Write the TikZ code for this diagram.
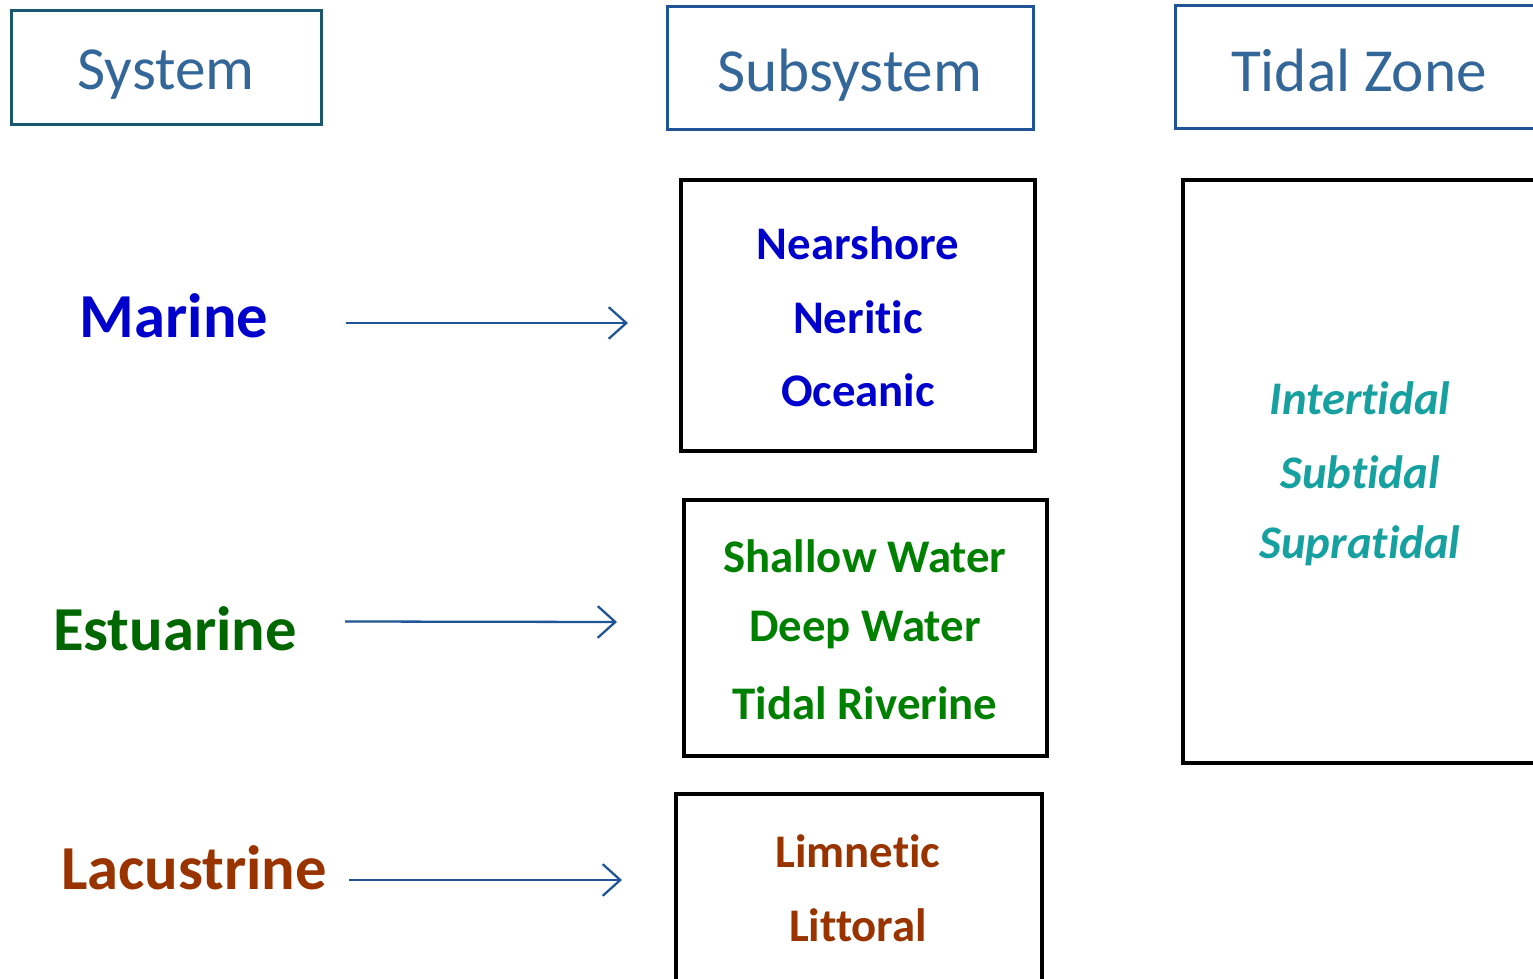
\documentclass[tikz,border=0pt]{standalone}
\usepackage{fontspec}
\setmainfont{Carlito}[Ligatures={NoCommon,NoRare}]
\definecolor{headtxt}{HTML}{336699}
\definecolor{headline}{HTML}{1F5596}
\definecolor{sysline}{HTML}{1A5870}
\definecolor{marblue}{HTML}{0000CC}
\definecolor{estgreen}{HTML}{006600}
\definecolor{subgreen}{HTML}{008000}
\definecolor{lacbrown}{HTML}{993300}
\definecolor{tidteal}{HTML}{16A0A0}
\tikzset{
  headbox/.style={draw=headline,line width=0.85pt},
  headtext/.style={text=headtxt,text depth=0pt,font=\fontsize{17.4}{20}\selectfont},
  subbox/.style={draw=black,line width=1.3pt},
  sysname/.style={font=\fontsize{17.8}{20}\selectfont\bfseries},
  subname/.style={font=\fontsize{13.3}{15}\selectfont\bfseries},
  tidname/.style={font=\fontsize{13.3}{15}\selectfont\bfseries\itshape,text=tidteal},
  arr/.style={->,>={Straight Barb[length=5pt,width=9pt]},draw=headline,line width=0.65pt}
}
\usetikzlibrary{arrows.meta}
\begin{document}
\begin{tikzpicture}[x=0.01cm,y=-0.01cm]
\useasboundingbox (0,0) rectangle (1533,979);
\clip (0,0) rectangle (1533,979);
% column headers
\node[headbox,draw=sysline,minimum width=3.09cm,minimum height=1.13cm] (system) at (166.5,67.5) {};
\node[headtext] (systxt) at (166,70) {System};
\node[headbox,minimum width=3.65cm,minimum height=1.22cm] (subsystem) at (850.5,68) {};
\node[headtext] (subtxt) at (850,70) {Subsystem};
\node[headbox,minimum width=4.2cm,minimum height=1.22cm] (tidalzone) at (1386,67) {};
\node[headtext] (tidaltxt) at (1359,70) {Tidal Zone};

% systems
\node[sysname,text=marblue] (marine) at (174,316) {Marine};
\node[sysname,text=estgreen] (estuarine) at (175,629) {Estuarine};
\node[sysname,text=lacbrown] (lacustrine) at (194,868) {Lacustrine};

% subsystem boxes
\node[subbox,minimum width=3.54cm,minimum height=2.71cm] (marbox) at (858,315.5) {};
\node[subname,text=marblue] (nearshore) at (858,243) {Nearshore};
\node[subname,text=marblue] (neritic) at (858,317) {Neritic};
\node[subname,text=marblue] (oceanic) at (858,390) {Oceanic};

\node[subbox,minimum width=3.63cm,minimum height=2.56cm] (estbox) at (865.5,628) {};
\node[subname,text=subgreen] (shallow) at (865,556) {Shallow Water};
\node[subname,text=subgreen] (deep) at (865,630) {Deep Water};
\node[subname,text=subgreen] (riverine) at (865,703) {Tidal Riverine};

\node[subbox,minimum width=3.66cm,minimum height=2.3cm] (lacbox) at (859,909) {};
\node[subname,text=lacbrown] (limnetic) at (858,851) {Limnetic};
\node[subname,text=lacbrown] (littoral) at (858,925) {Littoral};

% tidal zone box
\node[subbox,minimum width=4.2cm,minimum height=5.83cm] (tidbox) at (1393,471.5) {};
\node[tidname] (intertidal) at (1360,398) {Intertidal};
\node[tidname] (subtidal) at (1360,472) {Subtidal};
\node[tidname] (supratidal) at (1360,546) {Supratidal};

% arrows
\coordinate (ma) at (346,323);
\coordinate (mb) at (628,323);
\coordinate (ea) at (345,621.5);
\coordinate (eb) at (617,622);
\coordinate (la) at (349,880);
\coordinate (lb) at (622,880);
\draw[arr] (ma) -- (mb);
\draw[arr] (ea) -- (eb);
\draw[arr] (la) -- (lb);
\end{tikzpicture}
\end{document}
